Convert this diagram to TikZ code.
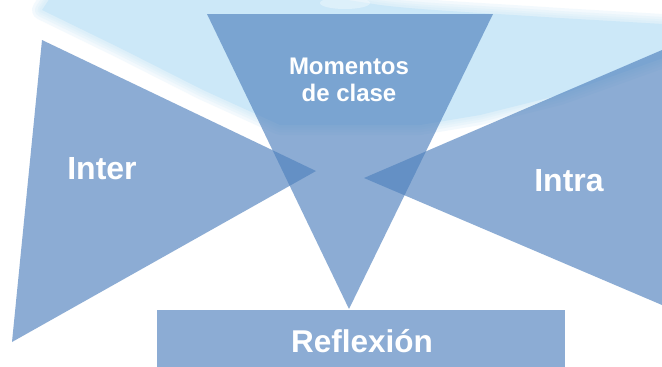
\documentclass[tikz,border=0pt]{standalone}
\usepackage{fontspec}
\setmainfont{Liberation Sans}
\definecolor{bgblue}{HTML}{CCE8F8}
\definecolor{shapeblue}{HTML}{4F81BD}
\tikzset{
  shapefill/.style={fill=shapeblue, fill opacity=0.65, draw=none},
  lbl/.style={text=white, anchor=base, inner sep=0pt, align=center},
  soft/.style={draw=bgblue, line join=round, draw opacity=0.22}
}
\begin{document}
\begin{tikzpicture}[x=1pt,y=-1pt]
\useasboundingbox (0,0) rectangle (662,367);
\fill[white] (0,0) rectangle (662,367);
\begin{scope}
\clip (0,0) rectangle (662,367);
\def\bgregion{(50,-2) -- (335,-2) -- (380,5) .. controls (420,10) and (470,12) .. (560,18) -- (680,25) -- (680,52) -- (560,95) -- (480,115) -- (420,125) -- (280,125) -- (203,90) -- (120,48) -- (42,10) -- cycle}
\foreach \w in {20,14,9,5} {
  \path[soft, line width=\w pt] \bgregion;
}
\path[fill=bgblue] \bgregion;
\fill[white, opacity=0.35] (345,3) ellipse (25 and 6);
\end{scope}
\coordinate (tA) at (207,14);
\coordinate (tB) at (493,14);
\coordinate (tC) at (349,309);
\coordinate (lA) at (42,40);
\coordinate (lB) at (12,342);
\coordinate (lC) at (316,171);
\coordinate (rA) at (364,178);
\coordinate (rB) at (662,50);
\coordinate (rC) at (662,305);
\path[shapefill] (tA) -- (tB) -- (tC) -- cycle;
\path[shapefill] (lA) -- (lC) -- (lB) -- cycle;
\path[shapefill] (rA) -- (rB) -- (rC) -- cycle;
\path[shapefill] (157,310) rectangle (565,367);
\node[lbl, font=\bfseries\fontsize{24}{29}\selectfont] (mom) at (349,74) {Momentos};
\node[lbl, font=\bfseries\fontsize{24}{29}\selectfont] (cla) at (349,101) {de clase};
\node[lbl, font=\bfseries\fontsize{32}{37}\selectfont] (inter) at (102,179) {Inter};
\node[lbl, font=\bfseries\fontsize{32}{37}\selectfont] (intra) at (569,191) {Intra};
\node[lbl, font=\bfseries\fontsize{31.5}{37}\selectfont] (refl) at (362,352) {Reflexión};
\end{tikzpicture}
\end{document}
